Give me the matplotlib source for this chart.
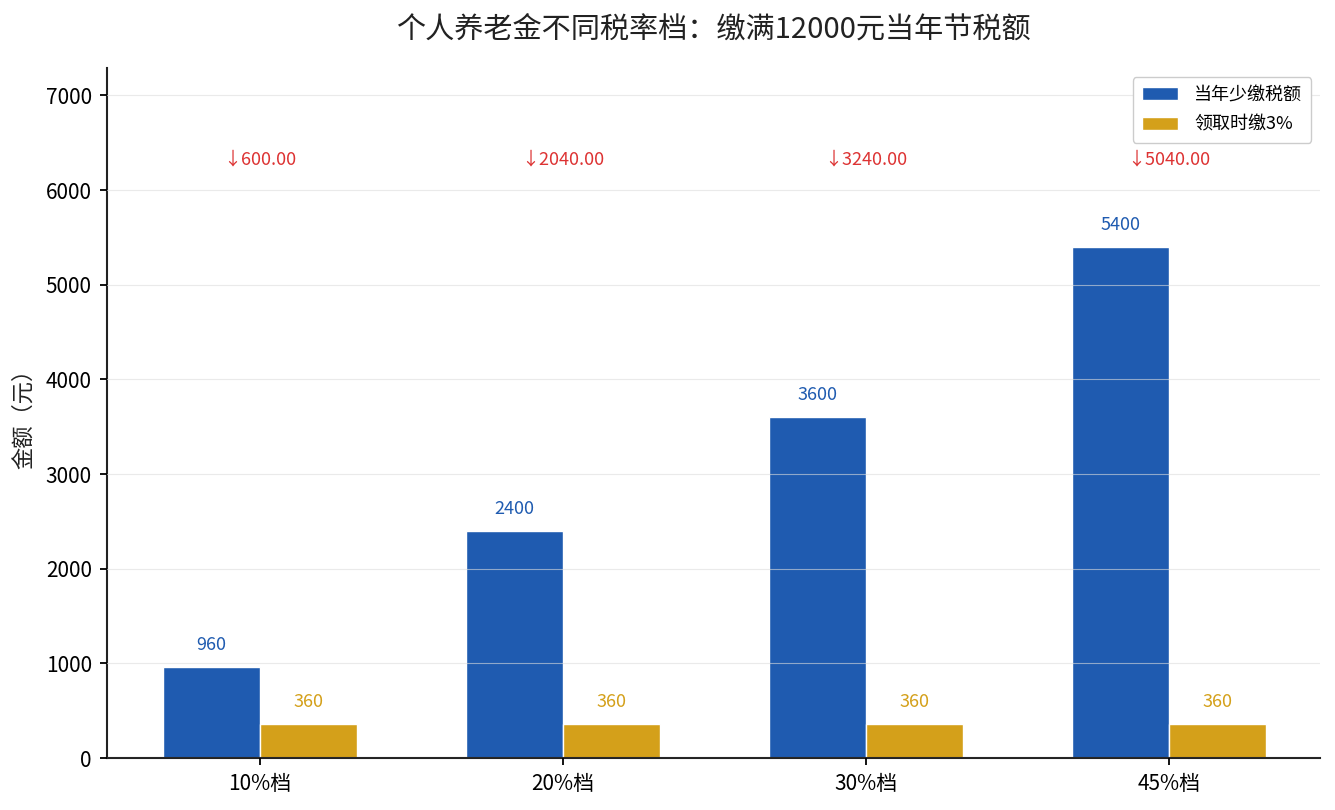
import matplotlib
matplotlib.use("Agg")
import matplotlib.pyplot as plt
import numpy as np

plt.rcParams['font.family'] = ['Noto Sans CJK SC', 'DejaVu Sans']
plt.rcParams['axes.unicode_minus'] = False

# data
brackets = ['10%档', '20%档', '30%档', '45%档']
tax_saved = [960, 2400, 3600, 5400]      # 当年少缴税额
tax_on_draw = [360, 360, 360, 360]        # 领取时缴3%
net_saved = [a - b for a, b in zip(tax_saved, tax_on_draw)]

blue = '#1F5BB0'
gold = '#D4A01A'
red = '#DD3333'

fig, ax = plt.subplots(figsize=(13.35, 8.1), dpi=100)
x = np.arange(len(brackets))
w = 0.32

ax.bar(x - w / 2, tax_saved, w, color=blue, edgecolor='white', linewidth=1, label='当年少缴税额')
ax.bar(x + w / 2, tax_on_draw, w, color=gold, edgecolor='white', linewidth=1, label='领取时缴3%')

top = max(tax_saved)
for xi, v in zip(x, tax_saved):
    ax.text(xi - w / 2, v + top * 0.026, f'{v}', ha='center', va='bottom', fontsize=13, color=blue)
for xi, v in zip(x, tax_on_draw):
    ax.text(xi + w / 2, v + top * 0.026, f'{v}', ha='center', va='bottom', fontsize=13, color=gold)
for xi, v in zip(x, net_saved):
    ax.text(xi, top * 1.172, f'↓{v:.2f}', ha='center', va='center', fontsize=13, color=red)

ax.set_xticks(x)
ax.set_xticklabels(brackets, fontsize=15)
ax.tick_params(axis='both', labelsize=15, length=5, width=1.3, pad=5.8)
ax.set_xlim(-0.505, 3.5)
ax.set_ylim(0, top * 1.35)
ax.set_yticks(np.arange(0, 7001, 1000))
ax.set_ylabel('金额（元）', fontsize=16, color='#222222', labelpad=8)
ax.set_title('个人养老金不同税率档：缴满12000元当年节税额', fontsize=21, color='#222222', pad=22)

ax.grid(axis='y', color='#dddddd', linewidth=0.8, alpha=0.6)
ax.set_axisbelow(False)
for s in ['top', 'right']:
    ax.spines[s].set_visible(False)
for s in ['left', 'bottom']:
    ax.spines[s].set_linewidth(1.5)
    ax.spines[s].set_color('#222222')

ax.legend(loc='upper right', fontsize=13, frameon=True, edgecolor='#cccccc', framealpha=1,
          labelspacing=0.65, handlelength=2.0, handleheight=0.7, handletextpad=0.9, borderpad=0.5)

plt.subplots_adjust(left=0.08, right=0.989, top=0.916, bottom=0.064)
plt.savefig('out.png', dpi=100)
